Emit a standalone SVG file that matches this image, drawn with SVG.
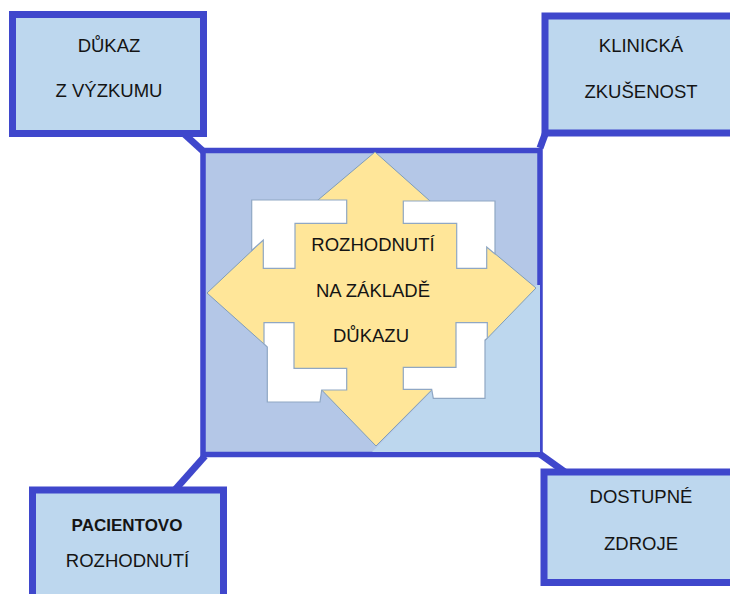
<svg xmlns="http://www.w3.org/2000/svg" width="730" height="594" viewBox="0 0 730 594">
  <style>
    .box { fill: #BDD7EE; stroke: #3F47CC; stroke-width: 7; }
    .hub { fill: #B4C7E7; stroke: #3F47CC; stroke-width: 5.5; }
    .link { stroke: #3F47CC; stroke-width: 7; fill: none; }
    .lbl { font-family: "Liberation Sans", Arial, sans-serif; font-size: 18.5px; fill: #141414; text-anchor: middle; }
    .bold { font-weight: bold; font-size: 17px; }
    .arrow { fill: #FFE699; stroke: #7F9DB9; stroke-width: 1; stroke-linejoin: miter; }
    .corner { fill: #FFFFFF; stroke: #8FA7C4; stroke-width: 1.2; stroke-linejoin: miter; }
  </style>

  <!-- connectors between the hub and the four factor boxes -->
  <g id="connectors">
    <line class="link" x1="182" y1="132" x2="204" y2="152"/>
    <line class="link" x1="547" y1="129" x2="540" y2="148"/>
    <line class="link" x1="173" y1="492" x2="205" y2="456"/>
    <line class="link" x1="537" y1="452" x2="565" y2="472"/>
  </g>

  <!-- central hub: evidence-based decision -->
  <g id="hub">
    <rect class="hub" x="203" y="150.5" width="337" height="304"/>
    <polygon points="536,285 540,285 540,452 372,452" fill="#BDD7EE"/>
    <polygon class="arrow" points="375,152 430,201 487,247 536,288 487.3,338.3 431.7,390 376,446 321.7,390 264,344 207,293 263.3,240 318,200"/>
    <polygon class="corner" points="251.7,200 346.7,200 346.7,223.3 295,223.3 295,268.3 263.3,268.3 263.3,240 251.7,250.5"/>
    <polygon class="corner" points="403.3,201 495,201 495,254 486.7,247 486.7,268.3 456.7,268.3 456.7,223.3 403.3,223.3"/>
    <polygon class="corner" points="264,322.7 294,322.7 294,368.3 346.7,368.3 346.7,390 321.7,390 320,402 267.3,402 267.3,347 264,344"/>
    <polygon class="corner" points="456,322.7 487.3,322.7 487.3,338.3 485,340 485,398.3 433.3,398.3 431.7,389.3 403.3,389.3 403.3,367.3 456,367.3"/>
    <text class="lbl" x="373" y="250.5">ROZHODNUTÍ</text>
    <text class="lbl" x="373" y="297">NA ZÁKLADĚ</text>
    <text class="lbl" x="371" y="342">DŮKAZU</text>
  </g>

  <g id="research">
    <rect class="box" x="12.5" y="14.5" width="191" height="119"/>
    <text class="lbl" x="109" y="52">DŮKAZ</text>
    <text class="lbl" x="109" y="97">Z VÝZKUMU</text>
  </g>

  <g id="experience">
    <rect class="box" x="545" y="16" width="192" height="117"/>
    <text class="lbl" x="641" y="52">KLINICKÁ</text>
    <text class="lbl" x="641" y="98">ZKUŠENOST</text>
  </g>

  <g id="patient">
    <rect class="box" x="32.5" y="490" width="191" height="120"/>
    <text class="lbl bold" x="127" y="531">PACIENTOVO</text>
    <text class="lbl" x="127.5" y="567">ROZHODNUTÍ</text>
  </g>

  <g id="resources">
    <rect class="box" x="544" y="472" width="194" height="110.5"/>
    <text class="lbl" x="641" y="503">DOSTUPNÉ</text>
    <text class="lbl" x="641" y="550">ZDROJE</text>
  </g>
</svg>
